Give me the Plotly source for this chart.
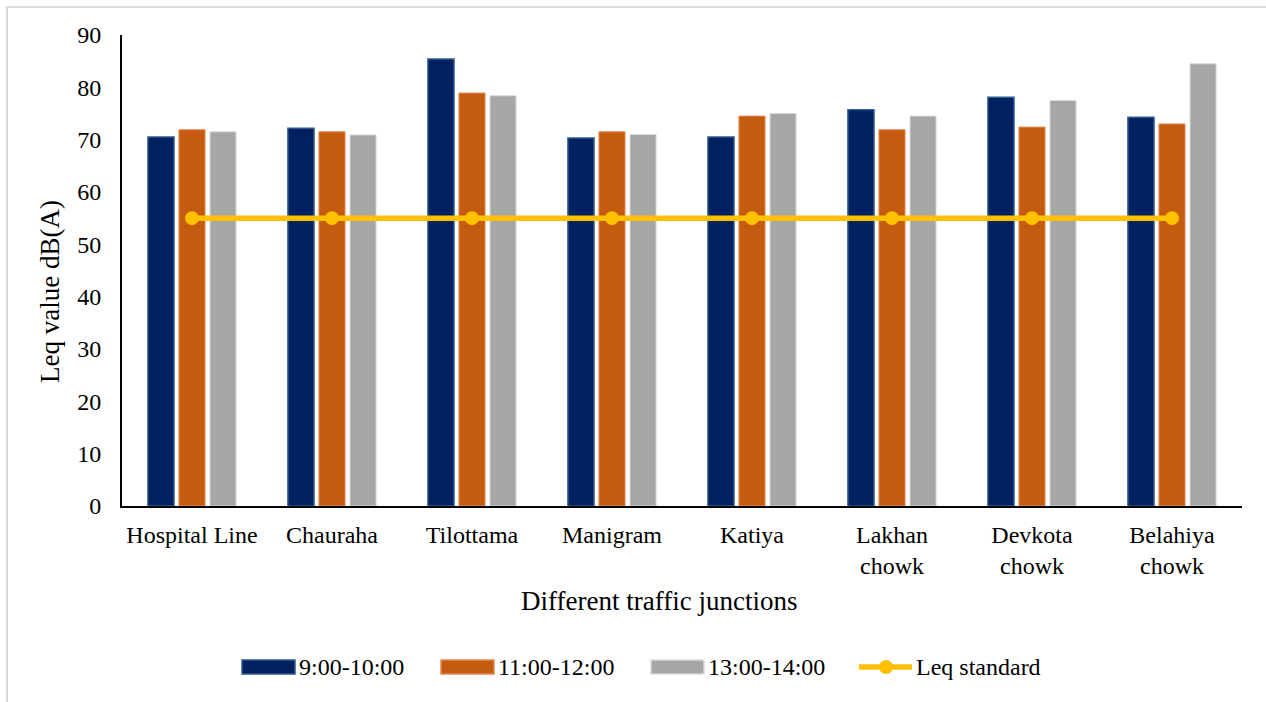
import plotly.graph_objects as go

# Traffic junctions and measured Leq values, dB(A)
junctions = ["Hospital Line", "Chauraha", "Tilottama", "Manigram", "Katiya",
             "Lakhan<br>chowk", "Devkota<br>chowk", "Belahiya<br>chowk"]
leq_9_10 = [70.5, 72.2, 85.4, 70.3, 70.5, 75.7, 78.1, 74.3]
leq_11_12 = [71.9, 71.5, 78.9, 71.5, 74.5, 71.9, 72.4, 73.0]
leq_13_14 = [71.5, 70.9, 78.4, 71.0, 75.0, 74.5, 77.5, 84.5]
leq_standard = [55, 55, 55, 55, 55, 55, 55, 55]
y_ticks = [0, 10, 20, 30, 40, 50, 60, 70, 80, 90]
series_names = ["9:00-10:00", "11:00-12:00", "13:00-14:00", "Leq standard"]
x_title = "Different traffic junctions"
y_title = "Leq value dB(A)"

FONT = "Liberation Serif, Times New Roman, serif"
NAVY, ORANGE, GREY, GOLD = "#002060", "#C55A11", "#A6A6A6", "#FFC000"
NAVY_EDGE, ORANGE_EDGE, GREY_EDGE = "#2E5A8A", "#E08A50", "#DADADA"

W, H = 1266, 702
M_L, M_R, M_T, M_B = 122, 24, 35, 196
PW, PH = W - M_L - M_R, H - M_T - M_B


def px(x):
    return (x - M_L) / PW


def py(y):
    return (H - M_B - y) / PH


fig = go.Figure()
fig.add_trace(go.Bar(
    x=junctions, y=leq_9_10, name=series_names[0],
    marker=dict(color=NAVY, line=dict(color=NAVY_EDGE, width=1.5)),
))
fig.add_trace(go.Bar(
    x=junctions, y=leq_11_12, name=series_names[1],
    marker=dict(color=ORANGE, line=dict(color=ORANGE_EDGE, width=1.0)),
))
fig.add_trace(go.Bar(
    x=junctions, y=leq_13_14, name=series_names[2],
    marker=dict(color=GREY, line=dict(color=GREY_EDGE, width=1.0)),
))
fig.add_trace(go.Scatter(
    x=junctions, y=leq_standard, name=series_names[3],
    mode="lines+markers",
    line=dict(color=GOLD, width=5.5),
    marker=dict(color=GOLD, size=14),
))

# Chart-area frame
shapes = [dict(
    type="rect", xref="paper", yref="paper",
    x0=px(7), x1=px(1290), y0=py(730), y1=py(7),
    line=dict(color="#D9D9D9", width=2), fillcolor="rgba(0,0,0,0)",
    layer="below",
)]

# Axis titles
annotations = [
    dict(xref="paper", yref="paper", x=px(659), y=py(601),
         xanchor="center", yanchor="middle", text=x_title, showarrow=False,
         font=dict(family=FONT, size=27, color="#000000")),
    dict(xref="paper", yref="paper", x=px(50), y=py(292),
         xanchor="center", yanchor="middle", text=y_title, showarrow=False,
         textangle=-90, font=dict(family=FONT, size=27, color="#000000")),
]

# Legend drawn below the plot: wide swatches with labels beside them
leg_y = 667
swatches = [(242, NAVY, NAVY_EDGE), (441, ORANGE, ORANGE_EDGE), (651, GREY, GREY_EDGE)]
for (x0, fill, edge), name in zip(swatches, series_names[:3]):
    shapes.append(dict(
        type="rect", xref="paper", yref="paper",
        x0=px(x0), x1=px(x0 + 53), y0=py(leg_y + 7), y1=py(leg_y - 7),
        fillcolor=fill, line=dict(color=edge, width=1.5),
    ))
    annotations.append(dict(
        xref="paper", yref="paper", x=px(x0 + 55), y=py(leg_y),
        xanchor="left", yanchor="middle", text=name, showarrow=False,
        font=dict(family=FONT, size=24, color="#000000"),
    ))
shapes.append(dict(
    type="line", xref="paper", yref="paper",
    x0=px(859), x1=px(912), y0=py(leg_y), y1=py(leg_y),
    line=dict(color=GOLD, width=5.5),
))
shapes.append(dict(
    type="circle", xref="paper", yref="paper",
    x0=px(879), x1=px(893), y0=py(leg_y + 7), y1=py(leg_y - 7),
    fillcolor=GOLD, line=dict(color=GOLD, width=0),
))
annotations.append(dict(
    xref="paper", yref="paper", x=px(914), y=py(leg_y),
    xanchor="left", yanchor="middle", text=series_names[3], showarrow=False,
    font=dict(family=FONT, size=24, color="#000000"),
))

fig.update_layout(
    width=W, height=H,
    margin=dict(l=M_L, r=M_R, t=M_T, b=M_B),
    paper_bgcolor="white", plot_bgcolor="white",
    font=dict(family=FONT, size=24, color="#000000"),
    barmode="group", bargap=0.335, bargroupgap=0.16,
    showlegend=False,
    shapes=shapes, annotations=annotations,
)

fig.update_xaxes(
    showline=True, linecolor="#000000", linewidth=2,
    ticks="", showgrid=False, tickfont=dict(family=FONT, size=24),
    ticklabelstandoff=6,
)
fig.update_yaxes(
    range=[0, 90], tickvals=y_ticks, ticktext=[str(v) for v in y_ticks],
    showline=True, linecolor="#000000", linewidth=2,
    ticks="", showgrid=False, zeroline=False,
    tickfont=dict(family=FONT, size=24),
    ticklabelstandoff=14,
)

fig.write_html("out.html")
